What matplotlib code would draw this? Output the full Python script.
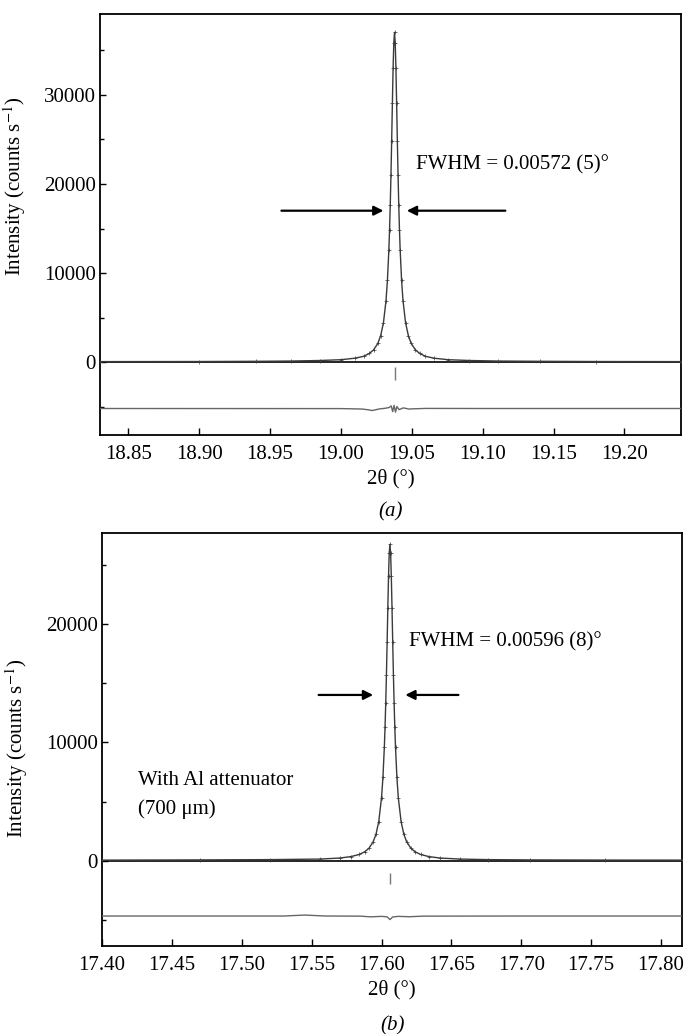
import numpy as np
import matplotlib
matplotlib.use("Agg")
import matplotlib.pyplot as plt
from matplotlib.ticker import MultipleLocator, FormatStrFormatter

plt.rcParams['font.family'] = ['Liberation Serif', 'DejaVu Serif']
plt.rcParams['mathtext.fontset'] = 'stix'

# panel (a) - without attenuator
tth_a = [18.830, 18.900, 18.940, 18.965, 18.985, 19.000, 19.010, 19.016, 19.020,
         19.023, 19.026, 19.028, 19.030, 19.0318, 19.0328, 19.0338, 19.0343, 19.0348,
         19.0353, 19.0358, 19.0363, 19.0368, 19.0373, 19.0378, 19.0383, 19.0388,
         19.0393, 19.0398, 19.0403, 19.0408, 19.0413, 19.0418, 19.0428, 19.0438,
         19.0456, 19.0476, 19.0496, 19.0526, 19.0556, 19.0596, 19.0656, 19.0756,
         19.0906, 19.1106, 19.1406, 19.1800, 19.2400]
obs_a = [85, 95, 120, 150, 210, 300, 470, 680, 1000,
         1390, 2120, 2970, 4450, 6910, 9180, 12560, 14850, 17650,
         20990, 24860, 29030, 32950, 35800, 36980, 35800, 32950,
         29030, 24860, 20990, 17650, 14850, 12560, 9180, 6910,
         4450, 2970, 2120, 1390, 1000, 680, 470, 300,
         210, 150, 120, 95, 85]
diff_tth_a = [18.830, 19.000, 19.015, 19.020, 19.022, 19.024, 19.027, 19.031, 19.034,
              19.0355, 19.0365, 19.0375, 19.0385, 19.0395, 19.041, 19.044, 19.048,
              19.052, 19.060, 19.100, 19.240]
diff_a = [-5170, -5180, -5230, -5330, -5400, -5330, -5220, -5150, -5060,
          -4880, -5520, -4820, -5580, -4950, -5300, -5100, -5230,
          -5200, -5160, -5170, -5170]
refl_a = [19.0378]

# panel (b) - with Al attenuator
tth_b = [17.400, 17.470, 17.520, 17.556, 17.570, 17.578, 17.584, 17.588, 17.591,
         17.594, 17.596, 17.598, 17.600, 17.601, 17.602, 17.6025, 17.603, 17.6035,
         17.604, 17.6045, 17.605, 17.6055, 17.606, 17.6065, 17.607, 17.6075, 17.608,
         17.6085, 17.609, 17.6095, 17.610, 17.611, 17.612, 17.614, 17.616, 17.618,
         17.621, 17.624, 17.628, 17.634, 17.642, 17.656, 17.676, 17.706, 17.760,
         17.815]
obs_b = [66, 84, 108, 155, 240, 360, 540, 770, 1070,
         1610, 2230, 3310, 5330, 7040, 9570, 11260, 13290, 15700,
         18430, 21310, 24000, 25970, 26700, 25970, 24000, 21310, 18430,
         15700, 13290, 11260, 9570, 7040, 5330, 3310, 2230, 1610,
         1070, 770, 540, 360, 240, 155, 108, 84, 70,
         66]
diff_tth_b = [17.400, 17.530, 17.545, 17.560, 17.585, 17.592, 17.600, 17.604, 17.606,
              17.608, 17.612, 17.620, 17.630, 17.700, 17.815]
diff_b = [-4650, -4650, -4570, -4650, -4660, -4720, -4680, -4720, -4950,
          -4730, -4680, -4710, -4660, -4650, -4650]
refl_b = [17.606]

line_col = '#3a3a3a'
diff_col = '#666666'

fig = plt.figure(figsize=(6.86, 10.34), dpi=100)
ax1 = fig.add_axes([0.1458, 0.5793, 0.847, 0.4072])
ax2 = fig.add_axes([0.1487, 0.0851, 0.8455, 0.3994])


def draw(ax, tth, obs, dtth, diff, refl, xlim, ylim):
    ax.axhline(0, color='black', lw=1.2, zorder=2)
    ax.plot(tth, obs, color=line_col, lw=1.0, zorder=3)
    ax.plot(tth, obs, ls='none', marker='+', ms=2.5, mew=0.5, color=line_col, zorder=4)
    ax.plot(dtth, diff, color=diff_col, lw=1.0, zorder=3)
    ax.set_xlim(*xlim)
    ax.set_ylim(*ylim)
    ax.xaxis.set_major_locator(MultipleLocator(0.05))
    ax.xaxis.set_major_formatter(FormatStrFormatter('%.2f'))
    ax.yaxis.set_major_locator(MultipleLocator(10000))
    ax.yaxis.set_minor_locator(MultipleLocator(5000))
    ax.tick_params(axis='both', which='both', direction='in', top=False, right=False,
                   labelsize=15, width=1.0)
    ax.tick_params(axis='x', which='major', length=5, pad=7)
    ax.tick_params(axis='y', which='major', length=4, pad=3)
    ax.tick_params(axis='y', which='minor', length=3)
    for s in ax.spines.values():
        s.set_linewidth(1.3)
    ax.set_xlabel('2θ (°)', fontsize=15, labelpad=4)
    ax.set_ylabel('Intensity (counts s$^{-1}$)', fontsize=15)


draw(ax1, tth_a, obs_a, diff_tth_a, diff_a, refl_a, (18.830, 19.240), (-8140, 39050))
ax1.vlines(refl_a, -1990, -490, color='#777777', lw=1.0)
ax1.yaxis.set_label_coords(-0.124, 0.591)
arrow = dict(arrowstyle='-|>', color='black', lw=1.6, mutation_scale=14, shrinkA=0, shrinkB=0)
ax1.annotate('', xy=(19.030, 17000), xytext=(18.958, 17000), arrowprops=arrow)
ax1.annotate('', xy=(19.0465, 17000), xytext=(19.116, 17000), arrowprops=arrow)
ax1.text(19.0527, 22170, 'FWHM = 0.00572 (5)°', fontsize=15, va='center', ha='left')

draw(ax2, tth_b, obs_b, diff_tth_b, diff_b, refl_b, (17.400, 17.815), (-7180, 27660))
ax2.vlines(refl_b, -1970, -990, color='#777777', lw=1.0)
ax2.yaxis.set_label_coords(-0.124, 0.479)
ax2.annotate('', xy=(17.594, 14000), xytext=(17.555, 14000), arrowprops=arrow)
ax2.annotate('', xy=(17.617, 14000), xytext=(17.655, 14000), arrowprops=arrow)
ax2.text(17.6198, 18450, 'FWHM = 0.00596 (8)°', fontsize=15, va='center', ha='left')
ax2.text(17.426, 6760, 'With Al attenuator', fontsize=15, va='center', ha='left')
ax2.text(17.426, 4370, '(700 μm)', fontsize=15, va='center', ha='left')

fig.text(0.569, 1 - 512 / 1034, '(a)', fontsize=15, style='italic', ha='center', va='center')
fig.text(0.572, 1 - 1026 / 1034, '(b)', fontsize=15, style='italic', ha='center', va='center')

fig.savefig('out.png', dpi=100)
